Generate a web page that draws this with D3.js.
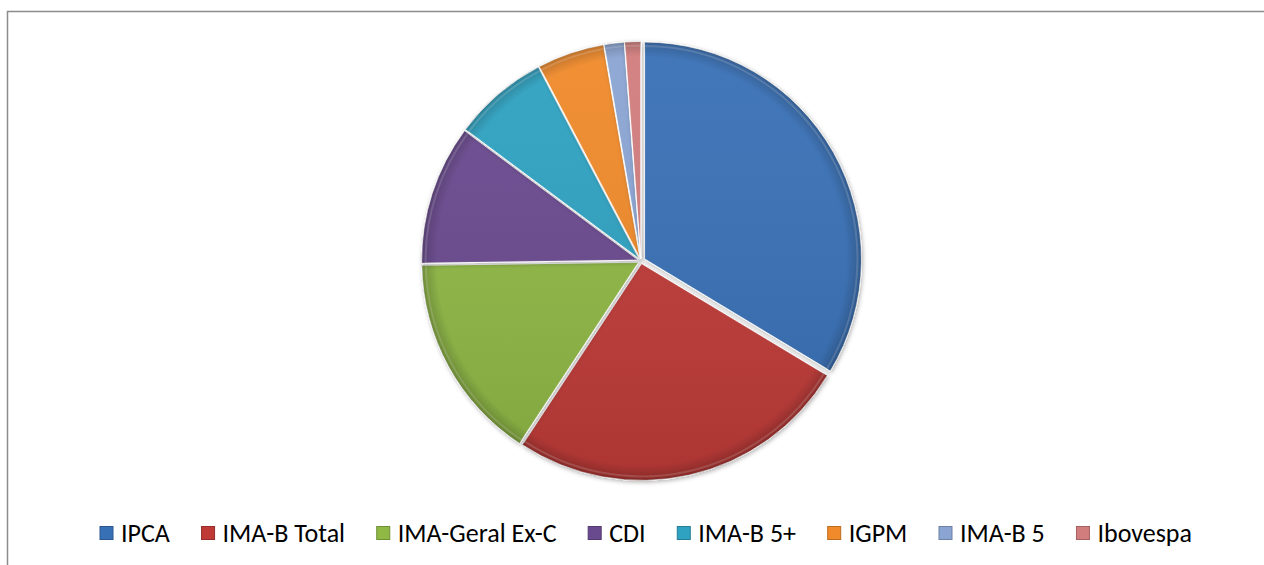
<!DOCTYPE html>
<html>
<head>
<meta charset="utf-8">
<script src="https://cdn.jsdelivr.net/npm/d3@7"></script>
<style>
  html, body { margin: 0; padding: 0; background: #fff; }
  svg { display: block; }
</style>
</head>
<body>
<svg id="chart" width="1264" height="565"></svg>
<script>
const categories = ["IPCA", "IMA-B Total", "IMA-Geral Ex-C", "CDI", "IMA-B 5+", "IGPM", "IMA-B 5", "Ibovespa"];
const values = [33.6, 25.6, 15.5, 10.4, 7.1, 5.0, 1.5, 1.2];
const colors = ["#3870b6", "#bf3a37", "#8fb844", "#6a4a8f", "#2fa2c1", "#f08a2a", "#8ba5d3", "#d27d7d"];

const svg = d3.select("#chart");
const W = 1264, H = 565;

svg.append("rect")
  .attr("x", 7.5).attr("y", 11.5)
  .attr("width", W + 20).attr("height", H + 20)
  .attr("fill", "#fff").attr("stroke", "#8c8c8c").attr("stroke-width", 1.5);

const cx = 641, cy = 261, R = 217;

const defs = svg.append("defs");
const shadow = defs.append("filter").attr("id", "shadow")
  .attr("x", "-20%").attr("y", "-20%").attr("width", "140%").attr("height", "140%");
shadow.append("feDropShadow").attr("dx", 1).attr("dy", 1.5).attr("stdDeviation", 2)
  .attr("flood-color", "#000").attr("flood-opacity", 0.3);

const shade = defs.append("linearGradient").attr("id", "shade")
  .attr("gradientUnits", "userSpaceOnUse")
  .attr("x1", 0).attr("y1", -R).attr("x2", 0).attr("y2", R);
shade.append("stop").attr("offset", "0%").attr("stop-color", "#fff").attr("stop-opacity", 0.05);
shade.append("stop").attr("offset", "100%").attr("stop-color", "#000").attr("stop-opacity", 0.1);

const rim = defs.append("radialGradient").attr("id", "rim")
  .attr("gradientUnits", "userSpaceOnUse")
  .attr("cx", 0).attr("cy", 0).attr("r", R);
rim.append("stop").attr("offset", "93%").attr("stop-color", "#000").attr("stop-opacity", 0);
rim.append("stop").attr("offset", "100%").attr("stop-color", "#000").attr("stop-opacity", 0.22);

const pie = d3.pie().sort(null).value(d => d);
const arcs = pie(values);
const arc = d3.arc().innerRadius(0).outerRadius(R);
const explode = 2.5;

const g = svg.append("g").attr("transform", `translate(${cx},${cy})`);
const slices = g.selectAll("g.slice").data(arcs).enter().append("g")
  .attr("class", "slice")
  .attr("transform", d => {
    const a = (d.startAngle + d.endAngle) / 2;
    const e = d.index === 0 ? explode + 1.5 : explode;
    return `translate(${Math.sin(a) * e},${-Math.cos(a) * e})`;
  });

slices.append("path")
  .attr("d", arc)
  .attr("fill", (d, i) => colors[i])
  .attr("stroke", "#fff").attr("stroke-width", 1)
  .attr("filter", "url(#shadow)");
slices.append("path")
  .attr("d", arc)
  .attr("fill", "url(#rim)");
slices.append("path")
  .attr("d", arc)
  .attr("fill", "url(#shade)");
slices.append("path")
  .attr("d", d3.arc().innerRadius(0).outerRadius(R - 4))
  .attr("fill", "none")
  .attr("stroke", "#fff").attr("stroke-opacity", 0.15).attr("stroke-width", 2);

// legend
const legend = svg.append("g").attr("class", "legend");
const fontSize = 26;
const sq = 13, textOff = 21;
const items = legend.selectAll("g").data(categories).enter().append("g");
items.append("rect")
  .attr("width", sq).attr("height", sq)
  .attr("y", -sq / 2)
  .attr("fill", (d, i) => colors[i])
  .attr("stroke", (d, i) => d3.color(colors[i]).darker(0.7))
  .attr("stroke-width", 1);
items.append("text")
  .attr("x", textOff).attr("dy", "0.35em")
  .attr("font-family", "Carlito, 'Liberation Sans', Arial, sans-serif")
  .attr("font-size", fontSize)
  .attr("fill", "#000")
  .text(d => d);

const widths = [];
items.each(function () {
  const tw = d3.select(this).select("text").node().getComputedTextLength();
  widths.push(textOff + tw);
});
const left = 100, right = 1192;
const gap = (right - left - d3.sum(widths)) / (widths.length - 1);
items.attr("transform", (d, i) => {
  const px = left + d3.sum(widths.slice(0, i)) + gap * i;
  return `translate(${px},533)`;
});
</script>
</body>
</html>
